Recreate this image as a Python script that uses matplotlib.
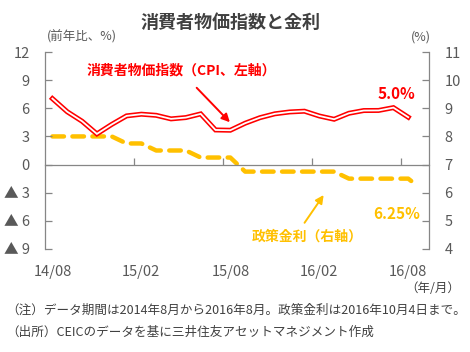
import matplotlib
matplotlib.use("Agg")
import matplotlib.pyplot as plt
from matplotlib.transforms import blended_transform_factory

plt.rcParams['font.family'] = ['Noto Sans CJK JP', 'DejaVu Sans']

# --- data ---
# CPI (y/y, %), monthly 2014/08 .. 2016/08
cpi = [7.03, 5.63, 4.62, 3.27, 4.28, 5.19, 5.37, 5.25, 4.87, 5.01, 5.40, 3.69, 3.66,
       4.41, 5.00, 5.41, 5.61, 5.69, 5.18, 4.83, 5.47, 5.76, 5.77, 6.07, 5.05]
cpi_x = list(range(len(cpi)))

# policy rate (%), monthly plus the Oct-2016 cut at the end
policy = [8.0, 8.0, 8.0, 8.0, 8.0, 7.75, 7.75, 7.5, 7.5, 7.5, 7.25, 7.25, 7.25,
          6.75, 6.75, 6.75, 6.75, 6.75, 6.75, 6.75, 6.5, 6.5, 6.5, 6.5, 6.5, 6.25]
policy_x = list(range(25)) + [24.6]

xtick_pos = [0, 6, 12, 18, 24]
xtick_labels = ['14/08', '15/02', '15/08', '16/02', '16/08']
left_ticks = [-9, -6, -3, 0, 3, 6, 9, 12]
left_labels = ['▲ 9', '▲ 6', '▲ 3', '0', '3', '6', '9', '12']
right_ticks = [4, 5, 6, 7, 8, 9, 10, 11]

RED = '#FF0000'
ORANGE = '#FFC000'
GRAY = '#868686'
TXT = '#595959'
DARK = '#404040'

fig = plt.figure(figsize=(4.7, 3.52), dpi=100)
ax = fig.add_axes([45/470, 103/352, 384/470, 197/352])
ax2 = ax.twinx()

# policy rate (right axis)
ax2.plot(policy_x, policy, color=ORANGE, lw=3.2, ls=(0, (2.6, 1.9)),
         solid_capstyle='round', dash_capstyle='round', zorder=3)

# CPI double line (left axis)
ax.plot(cpi_x, cpi, color=RED, lw=3.6, solid_joinstyle='miter', zorder=4)
ax.plot(cpi_x, cpi, color='white', lw=1.3, solid_joinstyle='miter', zorder=5)
ax.set_zorder(ax2.get_zorder() + 1)
ax.patch.set_visible(False)

ax.set_xlim(-0.5, 25.4)
ax.set_ylim(-9, 12)
ax2.set_ylim(4, 11)

for a in (ax, ax2):
    a.spines['top'].set_visible(False)
    for s in a.spines.values():
        s.set_color(GRAY)
        s.set_linewidth(0.9)
ax2.spines['bottom'].set_visible(False)
ax2.spines['left'].set_visible(False)
ax.spines['right'].set_visible(False)

# zero line acts as the category axis
ax.spines['bottom'].set_position(('data', 0))
ax.set_xticks([5.5, 11.5, 17.5, 23.5])
ax.set_xticklabels([])
ax.tick_params(axis='x', direction='in', length=5, color=GRAY, width=0.9)

ax.set_yticks(left_ticks)
ax.set_yticklabels(left_labels)
ax.tick_params(axis='y', direction='in', length=5, color=GRAY, width=0.9,
               labelsize=10.5, labelcolor=TXT, pad=11)
ax2.set_yticks(right_ticks)
ax2.tick_params(axis='y', direction='in', length=5, color=GRAY, width=0.9,
                labelsize=10.5, labelcolor=TXT, pad=11)

# x labels at the bottom of the plot area
trans = blended_transform_factory(ax.transData, ax.transAxes)
for xp, lab in zip(xtick_pos, xtick_labels):
    ax.text(xp, -0.115, lab, transform=trans, ha='center', va='center',
            fontsize=10.5, color=TXT)

# annotations
ax.text(2.3, 10.0, '消費者物価指数（CPI、左軸）', color=RED, fontsize=10,
        fontweight='bold', va='center', ha='left')
ax.annotate('', xy=(12.1, 4.3), xytext=(9.6, 8.4),
            arrowprops=dict(arrowstyle='-|>', color=RED, lw=1.4, mutation_scale=12))
ax.text(23.2, 7.5, '5.0%', color=RED, fontsize=11, fontweight='bold',
        ha='center', va='center')
ax2.text(23.2, 5.25, '6.25%', color=ORANGE, fontsize=11, fontweight='bold',
         ha='center', va='center')
ax2.text(17.2, 4.45, '政策金利（右軸）', color=ORANGE, fontsize=10,
         fontweight='bold', ha='center', va='center')
ax2.annotate('', xy=(18.4, 6.0), xytext=(16.9, 4.85),
             arrowprops=dict(arrowstyle='-|>', color=ORANGE, lw=1.4, mutation_scale=12))

# titles and notes
fig.text(0.49, 1 - 22/352, '消費者物価指数と金利', ha='center', va='center',
         fontsize=13, fontweight='bold', color=DARK)
fig.text(47/470, 1 - 37/352, '(前年比、%)', ha='left', va='center', fontsize=9, color=TXT)
fig.text(431/470, 1 - 37/352, '(%)', ha='right', va='center', fontsize=9, color=TXT)
fig.text(460/470, 1 - 289/352, '（年/月）', ha='right', va='center', fontsize=9, color=DARK)
fig.text(6/470, 1 - 310/352,
         '（注）データ期間は2014年8月から2016年8月。政策金利は2016年10月4日まで。',
         ha='left', va='center', fontsize=9.05, color=DARK)
fig.text(6/470, 1 - 332/352,
         '（出所）CEICのデータを基に三井住友アセットマネジメント作成',
         ha='left', va='center', fontsize=9.05, color=DARK)

fig.savefig('out.png', dpi=100)
